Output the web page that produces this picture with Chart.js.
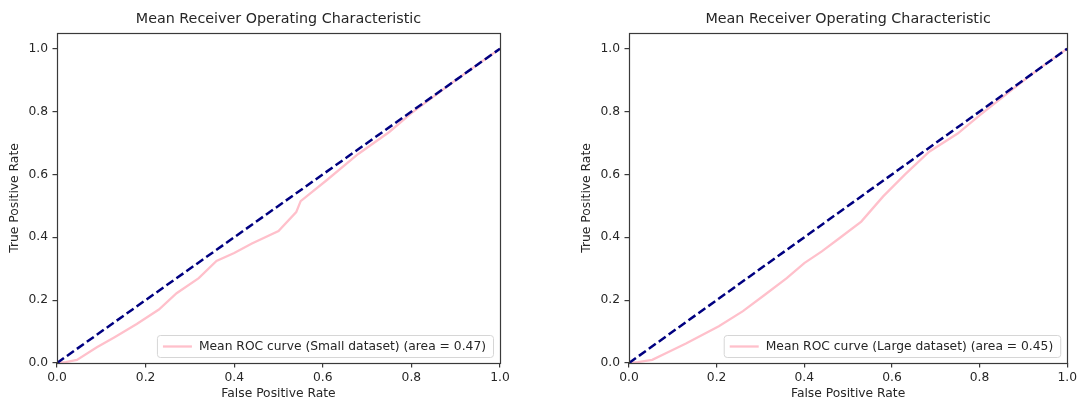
<!DOCTYPE html>
<html>
<head>
<meta charset="utf-8">
<title>Mean ROC</title>
<script src="https://cdn.jsdelivr.net/npm/chart.js@4.4.1/dist/chart.umd.min.js"></script>
<style>
    body { margin: 0; background: #fff; }
    .wrap { display: flex; width: 1080px; height: 401px; }
    canvas { display: block; }
</style>
</head>
<body>
<div class="wrap">
    <canvas id="smallChart" width="540" height="401"></canvas>
    <canvas id="largeChart" width="540" height="401"></canvas>
</div>
<script>
// ----------------- Data -----------------
const smallFpr = [0, 0.02, 0.045, 0.09, 0.13, 0.18, 0.23, 0.27, 0.32, 0.36, 0.40, 0.44, 0.50, 0.54, 0.55, 0.61, 0.68, 0.75, 0.80, 0.90, 1.0];
const smallTpr = [0, 0.003, 0.01, 0.05, 0.082, 0.124, 0.17, 0.222, 0.27, 0.325, 0.35, 0.38, 0.42, 0.48, 0.515, 0.583, 0.665, 0.735, 0.795, 0.9, 1.0];

const largeFpr = [0, 0.02, 0.053, 0.09, 0.13, 0.205, 0.26, 0.31, 0.36, 0.40, 0.44, 0.48, 0.53, 0.58, 0.63, 0.685, 0.75, 0.80, 0.87, 0.93, 1.0];
const largeTpr = [0, 0.003, 0.01, 0.035, 0.062, 0.117, 0.165, 0.217, 0.27, 0.318, 0.355, 0.397, 0.45, 0.53, 0.60, 0.672, 0.73, 0.788, 0.865, 0.93, 1.0];

const chanceX = [0, 1];
const chanceY = [0, 1];

const xTicks = [0, 0.2, 0.4, 0.6, 0.8, 1.0];
const yTicks = [0, 0.2, 0.4, 0.6, 0.8, 1.0];

const chartTitle = 'Mean Receiver Operating Characteristic';
const smallLabel = 'Mean ROC curve (Small dataset) (area = 0.47)';
const largeLabel = 'Mean ROC curve (Large dataset) (area = 0.45)';

const FONT = 'DejaVu Sans';
const TEXT = '#262626';
const AXIS = '#3a3a3a';
const SMALL_FONT = 12.3;

function toPoints(xs, ys) {
    return xs.map((x, i) => ({ x: x, y: ys[i] }));
}

// box around the plot area (matplotlib spines)
const framePlugin = {
    id: 'frame',
    afterDatasetsDraw(chart) {
        const { ctx, chartArea: a } = chart;
        ctx.save();
        ctx.strokeStyle = AXIS;
        ctx.lineWidth = 1.2;
        ctx.strokeRect(Math.round(a.left) + 0.5, Math.round(a.top) + 0.5,
            Math.round(a.right - a.left), Math.round(a.bottom - a.top));
        ctx.restore();
    }
};

// legend in the lower right corner of the plot area
const cornerLegend = {
    id: 'cornerLegend',
    afterDraw(chart) {
        const ds = chart.data.datasets.find(d => d.showInLegend);
        if (!ds) return;
        const { ctx, chartArea: a } = chart;
        ctx.save();
        ctx.font = SMALL_FONT + 'px "' + FONT + '"';
        const textW = ctx.measureText(ds.label).width;
        const lineLen = 29, padL = 6, gap = 7, padR = 7;
        const w = padL + lineLen + gap + textW + padR;
        const h = 22;
        const right = a.right - 7;
        const bottom = a.bottom - 6;
        const left = right - w;
        const top = bottom - h;

        ctx.beginPath();
        ctx.roundRect(left + 0.5, top + 0.5, w, h, 3);
        ctx.fillStyle = 'rgba(255,255,255,0.8)';
        ctx.fill();
        ctx.strokeStyle = '#d6d6d6';
        ctx.lineWidth = 1;
        ctx.stroke();

        const cy = top + h / 2 + 0.5;
        ctx.beginPath();
        ctx.moveTo(left + padL, cy);
        ctx.lineTo(left + padL + lineLen, cy);
        ctx.strokeStyle = ds.borderColor;
        ctx.lineWidth = ds.borderWidth;
        ctx.stroke();

        ctx.fillStyle = TEXT;
        ctx.textBaseline = 'middle';
        ctx.fillText(ds.label, left + padL + lineLen + gap, cy + 0.5);
        ctx.restore();
    }
};

function makeRocChart(canvasId, fpr, tpr, label, padLeft, padRight) {
    const ctx = document.getElementById(canvasId).getContext('2d');

    return new Chart(ctx, {
        type: 'scatter',
        data: {
            datasets: [
                {
                    label: label,
                    data: toPoints(fpr, tpr),
                    showLine: true,
                    showInLegend: true,
                    borderColor: '#FFC0CB',
                    borderWidth: 2.3,
                    pointRadius: 0,
                    tension: 0,
                    order: 2
                },
                {
                    label: 'chance',
                    data: toPoints(chanceX, chanceY),
                    showLine: true,
                    borderColor: '#000080',
                    borderWidth: 2.5,
                    borderDash: [8.5, 3.7],
                    pointRadius: 0,
                    order: 1
                }
            ]
        },
        options: {
            responsive: false,
            animation: false,
            devicePixelRatio: 1,
            layout: { padding: { left: padLeft, right: padRight, top: 0, bottom: 0 } },
            plugins: {
                legend: { display: false },
                tooltip: { enabled: false },
                title: {
                    display: true,
                    text: chartTitle,
                    fullSize: false,
                    color: TEXT,
                    font: { family: FONT, size: 14.3, weight: 'normal' },
                    padding: { top: 10.9, bottom: 4.9 }
                }
            },
            scales: {
                x: {
                    type: 'linear',
                    min: 0,
                    max: 1,
                    afterBuildTicks: s => { s.ticks = xTicks.map(v => ({ value: v })); },
                    afterFit: s => { s.height = 38; },
                    border: { display: false },
                    grid: { drawOnChartArea: false, drawTicks: true, tickLength: 4.5, color: AXIS, lineWidth: 1.2 },
                    ticks: {
                        color: TEXT,
                        padding: 3,
                        maxRotation: 0,
                        font: { family: FONT, size: SMALL_FONT },
                        callback: v => v.toFixed(1)
                    },
                    title: {
                        display: true,
                        text: 'False Positive Rate',
                        color: TEXT,
                        font: { family: FONT, size: SMALL_FONT },
                        padding: { top: 0, bottom: 0 }
                    }
                },
                y: {
                    type: 'linear',
                    min: 0,
                    max: 1.05,
                    afterBuildTicks: s => { s.ticks = yTicks.map(v => ({ value: v })); },
                    afterFit: s => { s.width = 57; },
                    border: { display: false },
                    grid: { drawOnChartArea: false, drawTicks: true, tickLength: 4.5, color: AXIS, lineWidth: 1.2 },
                    ticks: {
                        color: TEXT,
                        padding: 4.5,
                        font: { family: FONT, size: SMALL_FONT },
                        callback: v => v.toFixed(1)
                    },
                    title: {
                        display: true,
                        text: 'True Positive Rate',
                        color: TEXT,
                        font: { family: FONT, size: SMALL_FONT },
                        padding: { top: 7.6, bottom: 0 }
                    }
                }
            }
        },
        plugins: [framePlugin, cornerLegend]
    });
}

makeRocChart('smallChart', smallFpr, smallTpr, smallLabel, 0, 40);
makeRocChart('largeChart', largeFpr, largeTpr, largeLabel, 32, 8);
</script>
</body>
</html>
